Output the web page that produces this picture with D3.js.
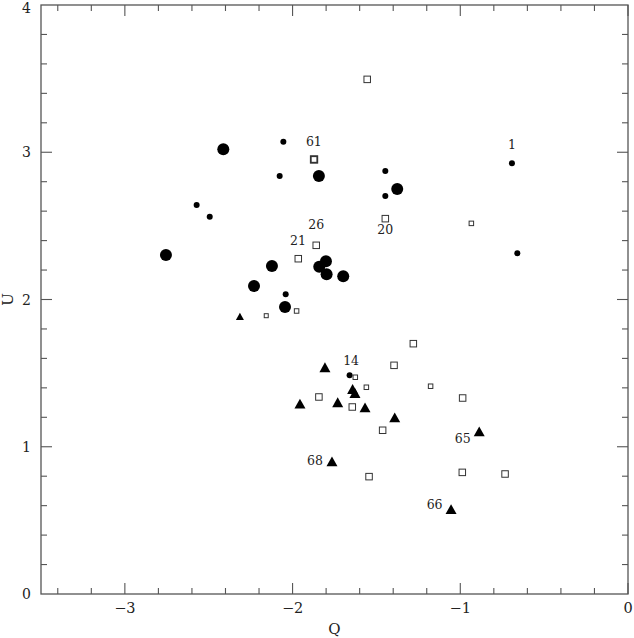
<!DOCTYPE html>
<html><head><meta charset="utf-8">
<script src="https://cdn.jsdelivr.net/npm/d3@7"></script>
<style>body{margin:0;background:#fff}svg{display:block}</style>
</head><body>
<svg id="c" width="634" height="638"></svg>
<script>
// Data
const bigCircles = [
  [-2.413,3.020],[-1.843,2.839],[-1.376,2.750],[-2.755,2.302],[-2.123,2.228],
  [-1.801,2.259],[-1.841,2.223],[-1.797,2.171],[-1.698,2.158],[-2.230,2.092],[-2.045,1.949]
];
const smallCircles = [
  [-2.055,3.072],[-2.077,2.839],[-1.447,2.873],[-1.447,2.703],[-2.572,2.642],
  [-2.494,2.562],[-0.692,2.925],[-0.660,2.314],[-2.041,2.035],[-1.660,1.485]
];
const squares = [
  [-1.555,3.495],[-1.872,2.951],[-1.447,2.549],[-1.859,2.368],[-1.966,2.277],
  [-1.280,1.700],[-1.395,1.553],[-1.843,1.338],[-1.644,1.270],[-1.463,1.112],
  [-0.986,1.331],[-1.544,0.797],[-0.988,0.826],[-0.733,0.815]
];
const boldSquares = [[-1.872,2.951]];
const smallSquares = [
  [-0.934,2.517],[-1.976,1.922],[-1.626,1.472],[-1.560,1.404],[-1.177,1.411]
];
const tinySquares = [[-2.157,1.890]];
const triangles = [
  [-1.807,1.533],[-1.642,1.385],[-1.628,1.358],[-1.956,1.286],[-1.731,1.295],
  [-1.568,1.261],[-1.391,1.193],[-0.887,1.098],[-1.765,0.894],[-1.055,0.570]
];
const smallTriangles = [[-2.314,1.881]];
const labelTexts = ["1","61","26","20","21","14","65","66","68"];
const labelPos = [
  [-0.692,3.052],[-1.873,3.071],[-1.859,2.506],[-1.447,2.472],[-1.968,2.399],
  [-1.651,1.583],[-0.985,1.058],[-1.153,0.610],[-1.866,0.904]
];
const xTicks = [-3,-2,-1,0];
const yTicks = [0,1,2,3,4];

const svg = d3.select("#c");
const L=41, R=628, T=5, B=594;
const x = d3.scaleLinear().domain([-3.5,0]).range([L,R]);
const y = d3.scaleLinear().domain([0,4]).range([B,T]);
const axisCol = "#555";
const serif = "'DejaVu Serif', 'Liberation Serif', serif";

// frame
svg.append("rect").attr("x",L).attr("y",T).attr("width",R-L).attr("height",B-T)
  .attr("fill","none").attr("stroke",axisCol).attr("stroke-width",1.3);

// ticks (inward, all four sides)
const g = svg.append("g").attr("stroke",axisCol).attr("stroke-width",1.1);
d3.range(-3.4, 0.001, 0.2).forEach(v=>{
  const major = Math.abs(v - Math.round(v)) < 1e-6;
  const len = major ? 11 : 6;
  const px = x(v);
  g.append("line").attr("x1",px).attr("x2",px).attr("y1",B).attr("y2",B-len);
  g.append("line").attr("x1",px).attr("x2",px).attr("y1",T).attr("y2",T+len);
});
d3.range(0.2, 4.0, 0.2).forEach(v=>{
  const major = Math.abs(v - Math.round(v)) < 1e-6;
  const len = major ? 11 : 6;
  const py = y(v);
  g.append("line").attr("y1",py).attr("y2",py).attr("x1",L).attr("x2",L+len);
  g.append("line").attr("y1",py).attr("y2",py).attr("x1",R).attr("x2",R-len);
});

// tick labels
svg.append("g").selectAll("text").data(xTicks).join("text")
  .attr("x",d=>x(d)).attr("y",613).attr("text-anchor","middle")
  .attr("font-family",serif).attr("font-size",14.5).attr("fill","#222")
  .text(d=> d<0 ? "\u2212"+Math.abs(d) : d);
svg.append("g").selectAll("text").data(yTicks).join("text")
  .attr("x",31).attr("y",d=>Math.max(y(d)+5, 13)).attr("text-anchor","end")
  .attr("font-family",serif).attr("font-size",14).attr("fill","#222")
  .text(d=>d);
svg.append("text").attr("x",(L+R)/2).attr("y",634).attr("text-anchor","middle")
  .attr("font-family",serif).attr("font-size",15).attr("fill","#222").text("Q");
svg.append("text").attr("transform",`translate(13,${(T+B)/2}) rotate(-90)`)
  .attr("text-anchor","middle").attr("font-family",serif).attr("font-size",15)
  .attr("fill","#222").text("U");

// markers
const m = svg.append("g");
m.selectAll(".bc").data(bigCircles).join("circle")
  .attr("cx",d=>x(d[0])).attr("cy",d=>y(d[1])).attr("r",6).attr("fill","#000");
m.selectAll(".sc").data(smallCircles).join("circle")
  .attr("cx",d=>x(d[0])).attr("cy",d=>y(d[1])).attr("r",3).attr("fill","#000");
function sq(data, s, sw){
  m.append("g").selectAll("rect").data(data).join("rect")
    .attr("x",d=>x(d[0])-s/2).attr("y",d=>y(d[1])-s/2).attr("width",s).attr("height",s)
    .attr("fill","#fff").attr("stroke","#333").attr("stroke-width",sw);
}
sq(squares,6.5,1);
sq(boldSquares,6.5,1.8);
sq(smallSquares,4.5,1);
sq(tinySquares,4,1);
function tri(data, w){
  const h = w*0.9;
  m.append("g").selectAll("path").data(data).join("path")
    .attr("d",d=>{const cx=x(d[0]), cy=y(d[1]);
      return `M${cx},${cy-h*0.6}L${cx+w/2},${cy+h*0.4}L${cx-w/2},${cy+h*0.4}Z`;})
    .attr("fill","#000");
}
tri(triangles,11);
tri(smallTriangles,8);

// point labels
svg.append("g").selectAll("text").data(labelTexts).join("text")
  .attr("x",(d,i)=>x(labelPos[i][0])).attr("y",(d,i)=>y(labelPos[i][1])+4.5)
  .attr("text-anchor","middle").attr("font-family",serif).attr("font-size",12.5)
  .attr("fill","#222").text(d=>d);
</script>
</body></html>
